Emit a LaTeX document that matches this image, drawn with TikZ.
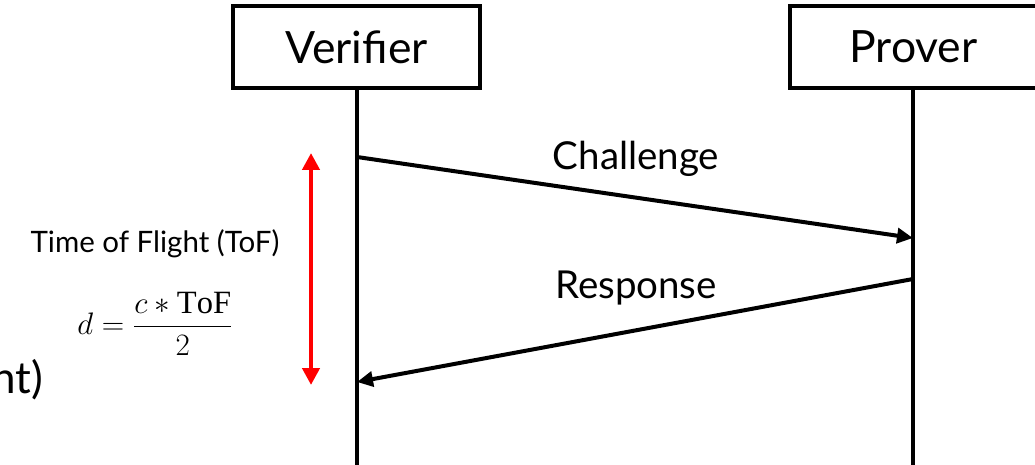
\documentclass[tikz,border=0pt]{standalone}
\usepackage{amsmath}
\usepackage{graphicx}
\usepackage{fontspec}
\setmainfont{Lato}
\setmathrm{Liberation Serif}
\usetikzlibrary{arrows.meta}
\tikzset{
  actor/.style={draw, line width=3.5pt, minimum width=247pt, minimum height=82pt, inner sep=0pt, font=\fontsize{44.5}{48}\selectfont},
  lifeline/.style={line width=4pt},
  msg/.style={line width=4pt, -{Triangle[length=16pt,width=15pt]}},
  msglabel/.style={font=\fontsize{38.5}{42}\selectfont, anchor=base},
  tof/.style={draw=red, line width=4.5pt, {Triangle[length=17pt,width=17pt]}-{Triangle[length=17pt,width=17pt]}},
}
\begin{document}
\begin{tikzpicture}[x=1pt,y=-1pt]
\useasboundingbox (0,0) rectangle (1035,465);
\node[actor] (ver) at (356.5,47) {Verifier};
\node[actor] (pro) at (913.5,47) {Prover};
\coordinate (vbot) at (357,467);
\coordinate (pbot) at (913,467);
\draw[lifeline] (ver.south -| vbot) -- (vbot);
\draw[lifeline] (pro.south -| pbot) -- (pbot);
\coordinate (c1) at (357,157);
\coordinate (c2) at (913,238);
\coordinate (r1) at (913,279);
\coordinate (r2) at (357,382);
\draw[msg] (c1) -- (c2);
\draw[msg] (r1) -- (r2);
\node[msglabel] (chal) at (636,170) {Challenge};
\node[msglabel] (resp) at (636,298) {Response};
\coordinate (t1) at (311,153);
\coordinate (t2) at (311,385);
\draw[tof] (t1) -- (t2);
\node[font=\fontsize{29.5}{32}\selectfont, anchor=base] (toflabel) at (155,252) {Time of Flight (ToF)};
\node[font=\fontsize{26}{30}\selectfont] (formula) at (155,324) {\scalebox{1.25}{$d=\dfrac{c\ast\mathrm{ToF}}{2}$}};
\node[font=\fontsize{44}{48}\selectfont, anchor=base east, inner sep=0pt] (frag) at (43,393) {nt)};
\end{tikzpicture}
\end{document}
